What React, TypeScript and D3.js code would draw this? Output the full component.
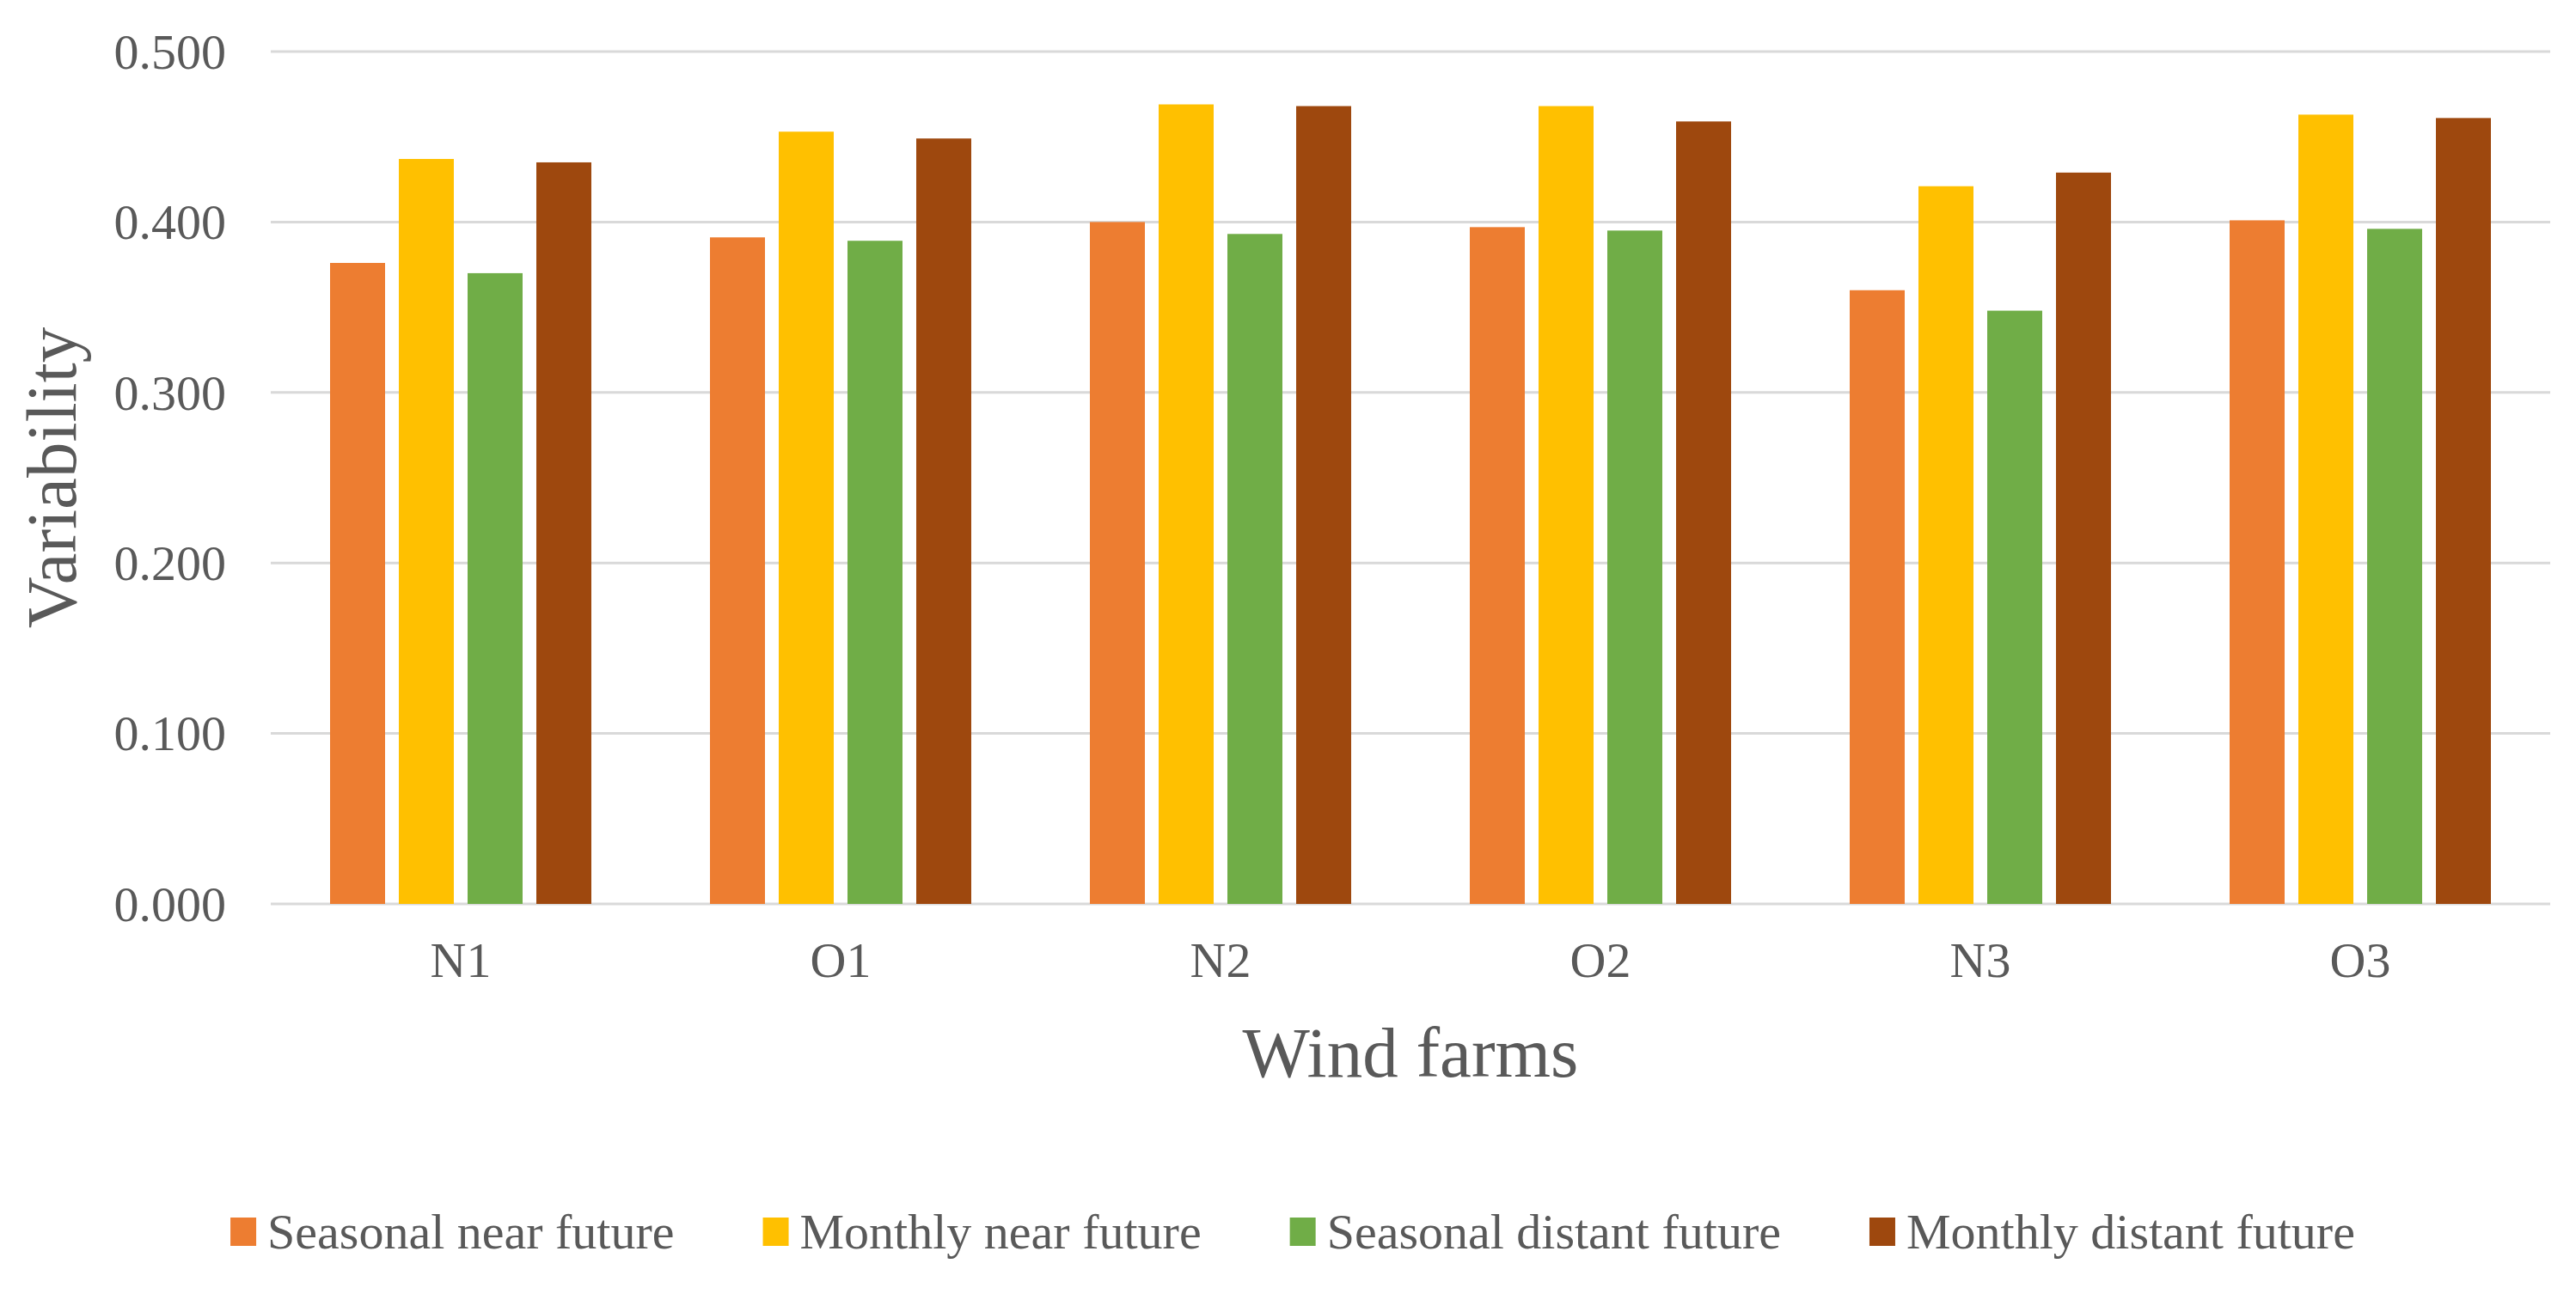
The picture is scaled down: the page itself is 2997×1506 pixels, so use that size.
import * as d3 from 'd3';
import React, { useEffect, useRef } from 'react';

const farms = ['N1', 'O1', 'N2', 'O2', 'N3', 'O3'];
const seriesNames = [
  'Seasonal near future',
  'Monthly near future',
  'Seasonal distant future',
  'Monthly distant future',
];
const seasonalNear = [0.376, 0.391, 0.400, 0.397, 0.360, 0.401];
const monthlyNear = [0.437, 0.453, 0.469, 0.468, 0.421, 0.463];
const seasonalDistant = [0.370, 0.389, 0.393, 0.395, 0.348, 0.396];
const monthlyDistant = [0.435, 0.449, 0.468, 0.459, 0.429, 0.461];
const yTicks = [0, 0.1, 0.2, 0.3, 0.4, 0.5];

const colors = ['#ED7D31', '#FFC000', '#70AD47', '#9E480E'];
const W = 2997;
const H = 1506;
const FONT = '"Liberation Serif", "Times New Roman", serif';
const TEXT = '#595959';

export default function App() {
  const svgRef = useRef<SVGSVGElement>(null);

  useEffect(() => {
    document.body.style.margin = '0';
    if (!svgRef.current) return;
    const svg = d3.select(svgRef.current);
    svg.selectAll('*').remove();

    const values = [seasonalNear, monthlyNear, seasonalDistant, monthlyDistant];
    const margin = { left: 315, right: 30, top: 60, bottom: 454 };
    const plotW = W - margin.left - margin.right;
    const plotH = H - margin.top - margin.bottom;

    const x0 = d3.scaleBand<string>().domain(farms).range([0, plotW]);
    const x1 = d3
      .scaleBand<string>()
      .domain(seriesNames)
      .range([0, x0.bandwidth()])
      .paddingInner(0.2)
      .paddingOuter(0.8625);
    const y = d3.scaleLinear().domain([0, 0.5]).range([plotH, 0]);

    svg.append('rect').attr('width', W).attr('height', H).attr('fill', '#fff');

    const g = svg
      .append('g')
      .attr('transform', `translate(${margin.left},${margin.top})`);

    // gridlines
    g.append('g')
      .selectAll('line')
      .data(yTicks)
      .join('line')
      .attr('x1', 0)
      .attr('x2', plotW)
      .attr('y1', (d) => y(d))
      .attr('y2', (d) => y(d))
      .attr('stroke', '#D9D9D9')
      .attr('stroke-width', 3);

    // y tick labels
    g.append('g')
      .selectAll('text')
      .data(yTicks)
      .join('text')
      .attr('x', -52)
      .attr('y', (d) => y(d))
      .attr('dy', '0.34em')
      .attr('text-anchor', 'end')
      .attr('font-family', FONT)
      .attr('font-size', 58)
      .attr('fill', TEXT)
      .text((d) => d3.format('.3f')(d));

    // bars
    const groups = g
      .append('g')
      .selectAll('g')
      .data(farms)
      .join('g')
      .attr('transform', (d) => `translate(${x0(d)},0)`);

    groups
      .selectAll('rect')
      .data((_, i) => seriesNames.map((s, k) => ({ s, k, v: values[k][i] })))
      .join('rect')
      .attr('x', (d) => x1(d.s) || 0)
      .attr('width', x1.bandwidth())
      .attr('y', (d) => y(d.v))
      .attr('height', (d) => y(0) - y(d.v))
      .attr('fill', (d) => colors[d.k]);

    // x tick labels
    g.append('g')
      .selectAll('text')
      .data(farms)
      .join('text')
      .attr('x', (d) => (x0(d) || 0) + x0.bandwidth() / 2)
      .attr('y', plotH + 85)
      .attr('text-anchor', 'middle')
      .attr('font-family', FONT)
      .attr('font-size', 58)
      .attr('fill', TEXT)
      .text((d) => d);

    // axis titles
    g.append('text')
      .attr('x', plotW / 2)
      .attr('y', plotH + 201)
      .attr('text-anchor', 'middle')
      .attr('font-family', FONT)
      .attr('font-size', 83)
      .attr('fill', TEXT)
      .text('Wind farms');

    svg
      .append('text')
      .attr('transform', `translate(88,${margin.top + plotH / 2}) rotate(-90)`)
      .attr('text-anchor', 'middle')
      .attr('font-family', FONT)
      .attr('font-size', 83)
      .attr('fill', TEXT)
      .text('Variability');

    // legend
    const legend = svg.append('g');
    const items = legend
      .selectAll('g')
      .data(seriesNames)
      .join('g');
    items
      .append('rect')
      .attr('y', 1417)
      .attr('width', 30)
      .attr('height', 33)
      .attr('fill', (_, i) => colors[i]);
    items
      .append('text')
      .attr('x', 43)
      .attr('y', 1453)
      .attr('font-family', FONT)
      .attr('font-size', 58)
      .attr('fill', TEXT)
      .text((d) => d);

    let cursor = 0;
    const offsets: number[] = [];
    items.each(function () {
      const t = d3.select(this).select('text').node() as SVGTextElement;
      offsets.push(cursor);
      cursor += 43 + t.getComputedTextLength() + 103;
    });
    const total = cursor - 103;
    const start = 1504 - total / 2;
    items.attr('transform', (_, i) => `translate(${start + offsets[i]},0)`);
  }, []);

  return <svg ref={svgRef} width={W} height={H} style={{ display: 'block' }} />;
}
